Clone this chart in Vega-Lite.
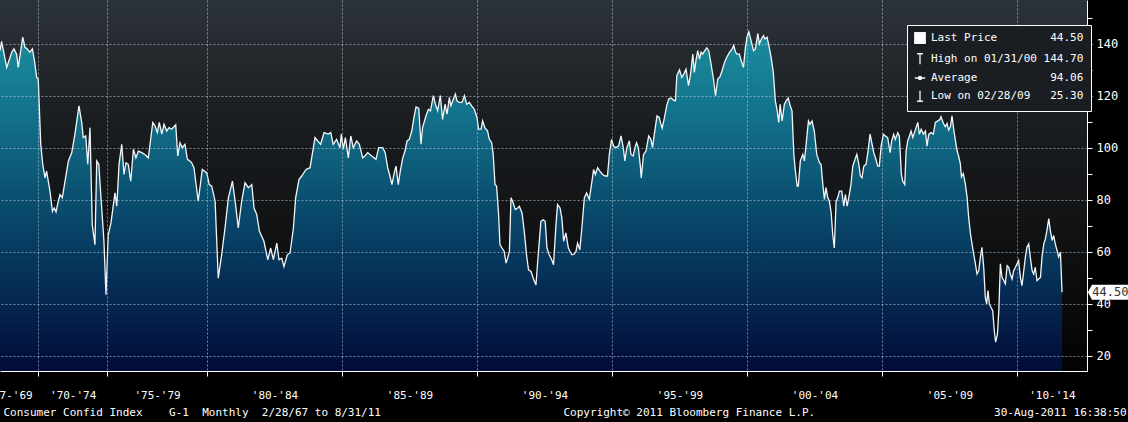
{
  "$schema": "https://vega.github.io/schema/vega-lite/v6.json",
  "width": 1087,
  "height": 371,
  "autosize": "none",
  "padding": {"left": 0, "top": 0, "right": 41, "bottom": 51},
  "background": "#000000",
  "config": {
    "font": "DejaVu Sans Mono",
    "view": {
      "stroke": null,
      "fill": {"gradient": "linear", "x1": 0, "y1": 0, "x2": 0, "y2": 1,
        "stops": [
          {"offset": 0, "color": "#2c3339"},
          {"offset": 0.35, "color": "#191c1f"},
          {"offset": 0.7, "color": "#0e0f10"},
          {"offset": 1, "color": "#030303"}
        ]}
    }
  },
  "data": {
    "values": [
      {"n":0,"v":137.4},{"n":0.7,"v":141.0},{"n":3.0,"v":131.0},{"n":5.2,"v":136.8},{"n":6.2,"v":138.1},{"n":7.4,"v":136.1},{"n":8.1,"v":131.0},{"n":10.1,"v":142.6},{"n":11.1,"v":138.7},{"n":12.1,"v":138.1},{"n":13.3,"v":136.8},{"n":14.4,"v":138.1},{"n":15.3,"v":133.6},{"n":16.3,"v":127.1},{"n":17.0,"v":126.5},{"n":18.1,"v":101.4},{"n":19.0,"v":93.7},{"n":20.0,"v":88.5},{"n":20.7,"v":91.1},{"n":22.2,"v":83.4},{"n":23.3,"v":75.6},{"n":24.1,"v":76.9},{"n":24.9,"v":75.4},{"n":25.9,"v":79.5},{"n":26.7,"v":82.1},{"n":27.7,"v":80.8},{"n":28.9,"v":87.2},{"n":30.4,"v":95.0},{"n":31.9,"v":98.2},{"n":33.3,"v":105.3},{"n":35.1,"v":116.2},{"n":36.3,"v":109.8},{"n":37.0,"v":104.0},{"n":38.1,"v":104.6},{"n":39.0,"v":93.7},{"n":40.0,"v":107.8},{"n":41.0,"v":70.5},{"n":42.2,"v":62.8},{"n":43.0,"v":95.0},{"n":43.9,"v":93.7},{"n":45.2,"v":76.9},{"n":46.2,"v":64.1},{"n":47.1,"v":43.5},{"n":48.1,"v":66.6},{"n":49.3,"v":71.1},{"n":51.1,"v":82.7},{"n":51.9,"v":77.6},{"n":52.9,"v":93.7},{"n":54.1,"v":101.4},{"n":55.1,"v":89.8},{"n":56.0,"v":94.3},{"n":57.0,"v":93.7},{"n":58.1,"v":87.2},{"n":59.3,"v":99.5},{"n":60.4,"v":96.2},{"n":61.5,"v":98.8},{"n":63.0,"v":98.2},{"n":64.4,"v":97.5},{"n":65.9,"v":96.2},{"n":67.9,"v":109.8},{"n":68.9,"v":108.5},{"n":69.9,"v":105.9},{"n":70.8,"v":109.8},{"n":71.9,"v":105.3},{"n":72.9,"v":109.1},{"n":74.1,"v":106.5},{"n":75.1,"v":107.8},{"n":76.3,"v":107.2},{"n":78.1,"v":108.9},{"n":79.0,"v":96.9},{"n":80.0,"v":102.0},{"n":81.0,"v":100.1},{"n":82.2,"v":101.4},{"n":83.3,"v":95.6},{"n":84.4,"v":95.0},{"n":85.2,"v":94.3},{"n":86.2,"v":92.4},{"n":88.1,"v":79.5},{"n":89.9,"v":91.7},{"n":91.9,"v":90.4},{"n":93.0,"v":85.9},{"n":94.1,"v":85.3},{"n":95.6,"v":79.5},{"n":97.0,"v":49.9},{"n":98.5,"v":58.9},{"n":100.0,"v":69.2},{"n":101.5,"v":80.8},{"n":103.3,"v":87.2},{"n":104.7,"v":78.2},{"n":105.9,"v":69.2},{"n":107.4,"v":79.5},{"n":108.9,"v":86.6},{"n":110.4,"v":84.7},{"n":111.9,"v":85.9},{"n":112.9,"v":76.9},{"n":114.1,"v":74.4},{"n":115.3,"v":67.9},{"n":117.3,"v":64.1},{"n":119.0,"v":57.0},{"n":120.3,"v":61.5},{"n":121.5,"v":57.0},{"n":123.0,"v":63.4},{"n":124.0,"v":57.0},{"n":125.2,"v":57.6},{"n":126.2,"v":54.4},{"n":127.7,"v":58.9},{"n":128.9,"v":59.6},{"n":130.4,"v":69.2},{"n":131.4,"v":80.8},{"n":132.9,"v":87.9},{"n":134.1,"v":89.2},{"n":136.0,"v":91.7},{"n":137.8,"v":92.4},{"n":140.0,"v":104.0},{"n":142.5,"v":101.4},{"n":144.0,"v":105.9},{"n":145.9,"v":105.3},{"n":147.0,"v":105.9},{"n":148.1,"v":101.4},{"n":149.6,"v":103.3},{"n":151.1,"v":100.1},{"n":151.7,"v":105.3},{"n":152.6,"v":99.5},{"n":153.5,"v":104.0},{"n":154.8,"v":96.2},{"n":155.9,"v":104.6},{"n":157.0,"v":100.1},{"n":158.5,"v":102.7},{"n":159.7,"v":101.4},{"n":161.2,"v":96.2},{"n":162.2,"v":96.9},{"n":163.4,"v":98.2},{"n":165.2,"v":96.9},{"n":167.1,"v":95.6},
      {"n":168.3,"v":100.1},{"n":170.1,"v":100.1},{"n":171.2,"v":98.2},{"n":172.3,"v":92.4},{"n":173.3,"v":89.2},{"n":174.2,"v":85.9},{"n":175.2,"v":90.4},{"n":176.0,"v":93.0},{"n":177.0,"v":85.9},{"n":177.9,"v":91.1},{"n":179.0,"v":96.2},{"n":180.0,"v":98.8},{"n":180.9,"v":102.7},{"n":181.9,"v":103.3},{"n":183.0,"v":106.5},{"n":184.1,"v":112.3},{"n":184.9,"v":115.8},{"n":186.1,"v":115.3},{"n":187.1,"v":101.4},{"n":187.8,"v":107.8},{"n":189.3,"v":112.3},{"n":190.4,"v":114.9},{"n":191.3,"v":114.3},{"n":192.6,"v":120.1},{"n":193.5,"v":116.8},{"n":194.5,"v":114.3},{"n":195.7,"v":120.1},{"n":196.7,"v":111.0},{"n":197.8,"v":116.8},{"n":198.7,"v":113.0},{"n":199.7,"v":119.4},{"n":200.4,"v":116.2},{"n":201.5,"v":118.8},{"n":202.4,"v":120.7},{"n":203.1,"v":118.1},{"n":204.1,"v":117.5},{"n":205.3,"v":117.5},{"n":206.4,"v":120.1},{"n":207.4,"v":116.8},{"n":208.6,"v":117.5},{"n":209.6,"v":116.2},{"n":210.8,"v":114.9},{"n":212.0,"v":111.7},{"n":212.7,"v":107.2},{"n":213.8,"v":107.2},{"n":214.5,"v":110.4},{"n":215.5,"v":107.8},{"n":216.7,"v":106.5},{"n":217.5,"v":103.3},{"n":218.5,"v":102.0},{"n":219.2,"v":97.5},{"n":220.0,"v":85.9},{"n":220.7,"v":85.3},{"n":221.6,"v":74.4},{"n":222.2,"v":62.8},{"n":223.1,"v":61.5},{"n":224.1,"v":60.2},{"n":224.9,"v":55.7},{"n":225.6,"v":57.6},{"n":226.4,"v":60.2},{"n":227.1,"v":80.8},{"n":227.8,"v":79.5},{"n":229.0,"v":76.3},{"n":230.1,"v":76.9},
      {"n":230.8,"v":77.6},{"n":232.0,"v":75.0},{"n":233.0,"v":67.9},{"n":234.0,"v":58.9},{"n":234.9,"v":53.1},{"n":236.0,"v":52.5},{"n":237.0,"v":49.9},{"n":238.2,"v":47.3},{"n":239.2,"v":58.9},{"n":240.4,"v":71.8},{"n":241.4,"v":72.4},{"n":242.3,"v":71.8},{"n":243.1,"v":61.5},{"n":244.1,"v":58.9},{"n":245.2,"v":57.0},{"n":246.0,"v":55.1},{"n":247.1,"v":70.5},{"n":247.8,"v":78.2},{"n":248.9,"v":76.9},{"n":249.7,"v":73.1},{"n":250.5,"v":64.1},{"n":251.5,"v":67.3},{"n":252.6,"v":61.5},{"n":253.3,"v":60.2},{"n":254.2,"v":58.9},{"n":255.2,"v":59.2},{"n":256.0,"v":60.2},{"n":256.7,"v":63.4},{"n":257.7,"v":60.8},{"n":258.6,"v":69.2},{"n":259.7,"v":80.8},{"n":260.7,"v":82.7},{"n":261.9,"v":80.2},{"n":263.1,"v":87.2},{"n":263.8,"v":91.7},{"n":264.6,"v":89.8},{"n":265.6,"v":92.4},{"n":266.6,"v":91.1},{"n":267.8,"v":89.8},{"n":269.0,"v":89.2},{"n":270.0,"v":89.2},{"n":270.8,"v":97.5},{"n":271.8,"v":103.3},{"n":272.7,"v":100.7},{"n":273.7,"v":100.1},{"n":274.9,"v":100.7},{"n":276.0,"v":104.6},{"n":277.0,"v":100.1},{"n":277.7,"v":95.0},{"n":278.6,"v":100.1},{"n":279.7,"v":102.7},{"n":280.4,"v":97.5},{"n":281.4,"v":96.9},{"n":282.2,"v":100.1},{"n":282.9,"v":102.0},{"n":283.7,"v":100.1},{"n":284.6,"v":93.0},{"n":285.0,"v":88.5},{"n":286.0,"v":97.5},{"n":287.1,"v":98.8},{"n":288.3,"v":104.6},{"n":289.3,"v":103.3},{"n":290.0,"v":100.1},{"n":290.8,"v":105.3},{"n":292.0,"v":112.3},{"n":293.0,"v":111.7},
      {"n":293.5,"v":109.8},{"n":294.3,"v":107.6},{"n":295.3,"v":111.7},{"n":296.3,"v":116.2},{"n":297.2,"v":118.8},{"n":298.3,"v":119.2},{"n":299.3,"v":118.4},{"n":300.2,"v":118.1},{"n":300.8,"v":127.8},{"n":302.0,"v":130.0},{"n":303.0,"v":127.1},{"n":303.9,"v":128.4},{"n":304.9,"v":130.3},{"n":306.0,"v":124.0},{"n":306.9,"v":128.4},{"n":307.9,"v":136.1},{"n":308.6,"v":129.0},{"n":309.4,"v":134.2},{"n":310.1,"v":137.4},{"n":310.9,"v":134.2},{"n":311.6,"v":136.8},{"n":312.3,"v":136.1},{"n":313.1,"v":137.2},{"n":314.1,"v":138.5},{"n":315.0,"v":137.4},{"n":316.0,"v":132.3},{"n":317.1,"v":126.5},{"n":318.0,"v":120.1},{"n":319.0,"v":126.5},{"n":320.0,"v":127.4},{"n":320.9,"v":129.7},{"n":322.0,"v":132.9},{"n":323.0,"v":134.9},{"n":324.2,"v":136.8},{"n":325.4,"v":138.1},{"n":326.1,"v":139.4},{"n":326.9,"v":136.8},{"n":327.6,"v":136.1},{"n":328.6,"v":136.1},{"n":329.4,"v":133.6},{"n":330.4,"v":131.0},{"n":331.3,"v":138.7},{"n":332.0,"v":142.6},{"n":332.8,"v":144.7},{"n":333.8,"v":141.3},{"n":334.9,"v":137.4},{"n":335.7,"v":138.1},{"n":336.8,"v":144.0},{"n":337.5,"v":140.0},{"n":338.4,"v":141.9},{"n":339.3,"v":143.2},{"n":340.0,"v":141.9},{"n":340.9,"v":142.6},{"n":341.7,"v":139.4},{"n":342.7,"v":134.9},{"n":343.7,"v":129.0},{"n":344.6,"v":118.1},{"n":345.4,"v":114.3},{"n":346.1,"v":109.8},{"n":346.7,"v":116.8},{"n":347.6,"v":110.4},{"n":348.6,"v":116.8},{"n":349.4,"v":118.1},{"n":350.3,"v":119.2},{"n":351.2,"v":116.2},{"n":352.0,"v":114.3},{"n":352.8,"v":97.5},{"n":353.5,"v":91.1},{"n":354.3,"v":85.3},
      {"n":354.8,"v":85.3},{"n":355.7,"v":95.0},{"n":356.8,"v":97.5},{"n":357.5,"v":95.0},{"n":358.2,"v":100.7},{"n":359.3,"v":110.4},{"n":360.0,"v":109.1},{"n":360.9,"v":110.4},{"n":361.9,"v":106.5},{"n":363.0,"v":97.5},{"n":364.2,"v":94.3},{"n":364.9,"v":93.7},{"n":365.7,"v":85.9},{"n":366.4,"v":80.2},{"n":367.1,"v":84.7},{"n":367.9,"v":80.8},{"n":368.6,"v":79.5},{"n":369.4,"v":75.0},{"n":370.1,"v":66.6},{"n":370.8,"v":61.5},{"n":371.6,"v":79.5},{"n":372.3,"v":80.8},{"n":373.1,"v":83.4},{"n":374.1,"v":83.4},{"n":375.0,"v":77.6},{"n":375.7,"v":82.1},{"n":376.5,"v":77.6},{"n":377.2,"v":80.8},{"n":378.2,"v":85.9},{"n":379.0,"v":93.0},{"n":380.0,"v":95.6},{"n":380.8,"v":97.5},{"n":381.7,"v":93.7},{"n":382.4,"v":89.2},{"n":383.1,"v":88.5},{"n":383.9,"v":93.0},{"n":384.9,"v":93.7},{"n":385.7,"v":98.2},{"n":386.7,"v":105.3},{"n":387.6,"v":101.4},{"n":388.3,"v":98.2},{"n":389.1,"v":96.2},{"n":390.1,"v":93.0},{"n":390.8,"v":93.0},{"n":391.6,"v":100.7},{"n":392.6,"v":105.3},{"n":393.5,"v":104.6},{"n":394.5,"v":104.0},{"n":395.6,"v":98.2},{"n":396.3,"v":102.7},{"n":397.2,"v":105.3},{"n":397.9,"v":103.3},{"n":399.0,"v":105.9},{"n":399.7,"v":104.6},{"n":400.6,"v":89.8},{"n":401.2,"v":87.2},{"n":402.1,"v":85.9},{"n":402.7,"v":98.8},{"n":403.4,"v":102.7},{"n":404.2,"v":104.6},{"n":404.9,"v":106.5},{"n":405.7,"v":104.0},{"n":406.4,"v":105.9},{"n":407.1,"v":107.8},{"n":407.9,"v":109.8},{"n":408.6,"v":105.3},{"n":409.4,"v":107.2},{"n":410.4,"v":105.3},{"n":411.3,"v":106.5},{"n":412.0,"v":100.7},{"n":412.8,"v":105.3},{"n":413.8,"v":105.9},{"n":414.8,"v":105.3},{"n":415.7,"v":109.8},{"n":416.8,"v":110.4},{"n":417.8,"v":111.0},
      {"n":418.2,"v":112.0},{"n":419.3,"v":109.4},{"n":420.1,"v":108.2},{"n":420.9,"v":109.4},{"n":421.6,"v":106.9},{"n":422.4,"v":108.2},{"n":423.1,"v":112.3},{"n":423.9,"v":106.9},{"n":424.6,"v":103.0},{"n":425.3,"v":99.2},{"n":426.1,"v":96.6},{"n":426.8,"v":94.0},{"n":427.3,"v":88.9},{"n":428.1,"v":90.1},{"n":429.0,"v":86.3},{"n":429.8,"v":81.1},{"n":430.5,"v":73.4},{"n":431.3,"v":67.0},{"n":432.0,"v":63.1},{"n":432.7,"v":59.3},{"n":433.5,"v":55.4},{"n":434.2,"v":51.5},{"n":435.0,"v":52.8},{"n":435.7,"v":58.0},{"n":436.4,"v":61.8},{"n":437.2,"v":54.1},{"n":437.9,"v":42.5},{"n":438.5,"v":40.0},{"n":439.1,"v":45.1},{"n":439.7,"v":40.0},{"n":440.4,"v":38.7},{"n":441.2,"v":37.4},{"n":441.9,"v":29.7},{"n":442.5,"v":25.3},{"n":443.3,"v":28.4},{"n":443.9,"v":37.4},{"n":444.6,"v":55.4},{"n":445.3,"v":50.2},{"n":446.1,"v":49.0},{"n":446.8,"v":47.7},{"n":447.6,"v":54.7},{"n":448.3,"v":54.1},{"n":449.0,"v":51.5},{"n":449.8,"v":49.6},{"n":450.5,"v":52.8},{"n":451.3,"v":54.1},{"n":452.0,"v":55.4},{"n":452.7,"v":56.7},{"n":453.5,"v":50.2},{"n":454.2,"v":47.0},{"n":455.0,"v":52.8},{"n":455.7,"v":58.0},{"n":456.4,"v":61.8},{"n":457.2,"v":63.1},{"n":457.9,"v":58.0},{"n":458.7,"v":52.8},{"n":459.4,"v":51.5},{"n":460.1,"v":54.1},{"n":460.9,"v":49.0},{"n":461.6,"v":49.6},{"n":462.4,"v":50.2},{"n":463.1,"v":58.0},{"n":463.9,"v":63.1},{"n":464.6,"v":65.0},{"n":465.3,"v":68.3},{"n":466.1,"v":72.8},{"n":466.8,"v":68.3},{"n":467.6,"v":64.4},{"n":468.3,"v":66.3},{"n":469.0,"v":63.1},{"n":469.8,"v":60.5},{"n":470.5,"v":58.0},{"n":471.3,"v":59.9},{"n":472.0,"v":44.5}
    ]
  },
  "encoding": {
    "y": {
      "field": "v",
      "type": "quantitative",
      "scale": {"domain": [14.2, 156.9], "nice": false, "zero": false},
      "axis": {
        "orient": "right",
        "zindex": 1,
        "values": [20, 30, 40, 50, 60, 70, 80, 90, 100, 110, 120, 130, 140, 150],
        "labelExpr": "datum.value % 20 == 0 ? datum.label : ''",
        "domainColor": "#ffffff",
        "tickColor": "#ffffff",
        "tickSize": 5,
        "labelColor": "#ffffff",
        "labelFont": "DejaVu Sans Mono",
        "labelFontSize": 12,
        "labelPadding": 4,
        "grid": true,
        "gridColor": "#c4ced8",
        "gridDash": [2, 2],
        "gridOpacity": {"condition": {"test": "datum.value % 20 == 0", "value": 0.6}, "value": 0},
        "title": "Consumer Confid Index\u00a0\u00a0\u00a0\u00a0G-1\u00a0\u00a0Monthly\u00a0\u00a02/28/67 to 8/31/11",
        "titleAngle": 0,
        "titleX": -1084,
        "titleY": 412,
        "titleAlign": "left",
        "titleBaseline": "middle",
        "titleFont": "DejaVu Sans Mono",
        "titleFontSize": 11,
        "titleFontWeight": "normal",
        "titleColor": "#ffffff"
      }
    }
  },
  "layer": [
    {
      "mark": {
        "type": "area",
        "fill": {"gradient": "linear", "x1": 0, "y1": 0, "x2": 0, "y2": 1,
          "stops": [
            {"offset": 0, "color": "#1c8d9e"},
            {"offset": 0.25, "color": "#12718a"},
            {"offset": 0.5, "color": "#0a4e6f"},
            {"offset": 0.75, "color": "#052c55"},
            {"offset": 1, "color": "#020c38"}
          ]}
      },
      "encoding": {
        "x": {
          "field": "n",
          "type": "quantitative",
          "scale": {"domain": [0, 483.1], "nice": false, "zero": false},
          "axis": {
            "orient": "bottom",
            "zindex": 1,
            "values": [17, 47.6, 92, 152, 212, 272, 332, 392, 452],
            "labels": false,
            "domainColor": "#ffffff",
            "tickColor": "#ffffff",
            "tickSize": 5,
            "grid": true,
            "gridColor": "#c4ced8",
            "gridDash": [2, 2],
            "gridOpacity": 0.6,
            "title": "Copyright\u00a9 2011 Bloomberg Finance L.P.",
            "titleX": 563,
            "titleY": 41,
            "titleAlign": "left",
            "titleBaseline": "middle",
            "titleFont": "DejaVu Sans Mono",
            "titleFontSize": 11,
            "titleFontWeight": "normal",
            "titleColor": "#ffffff"
          }
        },
        "y2": {"datum": 14.2}
      }
    },
    {
      "mark": {"type": "line", "strokeWidth": 1.3},
      "encoding": {
        "x": {
          "field": "n",
          "type": "quantitative",
          "axis": {
            "orient": "bottom",
            "values": [4, 32.3, 69.8, 122, 182, 242, 302, 362, 422, 467.5],
            "labelExpr": "datum.value < 10 ? \"'67-'69\" : datum.value < 40 ? \"'70-'74\" : datum.value < 80 ? \"'75-'79\" : datum.value < 130 ? \"'80-'84\" : datum.value < 190 ? \"'85-'89\" : datum.value < 250 ? \"'90-'94\" : datum.value < 310 ? \"'95-'99\" : datum.value < 370 ? \"'00-'04\" : datum.value < 430 ? \"'05-'09\" : \"'10-'14\"",
            "domain": false,
            "ticks": false,
            "tickSize": 0,
            "grid": false,
            "labelPadding": 18,
            "labelOverlap": false,
            "labelFlush": false,
            "labelBound": false,
            "labelColor": "#ffffff",
            "labelFont": "DejaVu Sans Mono",
            "labelFontSize": 11,
            "title": "30-Aug-2011 16:38:50",
            "titleX": 1126,
            "titleY": 41,
            "titleAlign": "right",
            "titleBaseline": "middle",
            "titleFont": "DejaVu Sans Mono",
            "titleFontSize": 11,
            "titleFontWeight": "normal",
            "titleColor": "#ffffff"
          }
        },
        "stroke": {
          "datum": "Last Price\u00a0\u00a0\u00a0\u00a0\u00a0\u00a0\u00a0\u00a044.50",
          "type": "nominal",
          "scale": {
            "domain": [
              "Last Price\u00a0\u00a0\u00a0\u00a0\u00a0\u00a0\u00a0\u00a044.50",
              "High on 01/31/00 144.70",
              "Average\u00a0\u00a0\u00a0\u00a0\u00a0\u00a0\u00a0\u00a0\u00a0\u00a0\u00a094.06",
              "Low on 02/28/09\u00a0\u00a0\u00a025.30"
            ],
            "range": ["#f2f6f8", "#f2f6f8", "#f2f6f8", "#f2f6f8"]
          },
          "legend": {
            "title": null,
            "orient": "none",
            "zindex": 2,
            "legendX": 907,
            "legendY": 25,
            "padding": 7,
            "strokeColor": "#ffffff",
            "fillColor": "#1a1e22",
            "labelColor": "#ffffff",
            "labelFont": "DejaVu Sans Mono",
            "labelFontSize": 11,
            "labelLimit": 400,
            "labelOffset": 5,
            "rowPadding": 5,
            "symbolSize": 110,
            "encode": {
              "symbols": {
                "update": {
                  "shape": {"signal": "indexof(datum.value, 'Last') == 0 ? 'square' : indexof(datum.value, 'High') == 0 ? 'M-0.55,-1H0.55M0,-1V1' : indexof(datum.value, 'Average') == 0 ? 'M-1,0H-0.3M0.3,0H1M-0.3,0A0.3,0.3,0,1,0,0.3,0A0.3,0.3,0,1,0,-0.3,0' : 'M0,-1V1M-0.55,1H0.55'"},
                  "fill": {"signal": "indexof(datum.value, 'High') == 0 || indexof(datum.value, 'Low') == 0 ? 'transparent' : '#ffffff'"},
                  "stroke": {"value": "#ffffff"},
                  "strokeWidth": {"value": 1.3},
                  "size": {"value": 110},
                  "opacity": {"value": 1}
                }
              }
            }
          }
        }
      }
    },
    {
      "transform": [{"filter": "datum.n >= 472"}],
      "mark": {
        "type": "point",
        "shape": "M-1,0L-0.8,-0.375H1V0.375H-0.8Z",
        "filled": true,
        "fill": "#ffffff",
        "opacity": 1,
        "size": 1600
      },
      "encoding": {
        "x": {"datum": 492.4, "type": "quantitative", "axis": null}
      }
    },
    {
      "transform": [{"filter": "datum.n >= 472"}],
      "mark": {
        "type": "text",
        "font": "DejaVu Sans Mono",
        "fontSize": 12,
        "color": "#333333",
        "align": "center",
        "baseline": "middle"
      },
      "encoding": {
        "x": {"datum": 493.5, "type": "quantitative", "axis": null},
        "text": {"field": "v", "type": "quantitative", "format": ".2f"}
      }
    }
  ],
  "resolve": {"axis": {"x": "independent"}}
}
